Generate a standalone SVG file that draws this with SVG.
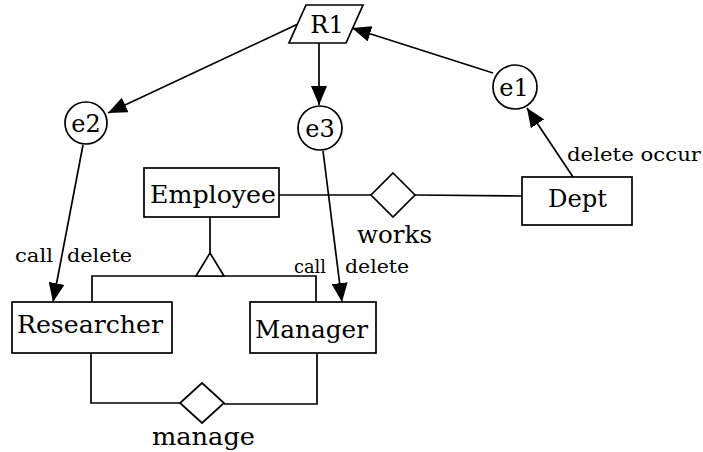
<svg xmlns="http://www.w3.org/2000/svg" width="703" height="452" viewBox="0 0 703 452">
<style>
.s{fill:#fff;stroke:#000;stroke-width:1.7}
.l{fill:none;stroke:#000;stroke-width:1.7}
.t{font-family:"DejaVu Serif","Liberation Serif",serif;font-size:24px;fill:#000}
.lb{font-family:"DejaVu Serif","Liberation Serif",serif;font-size:19px;fill:#000}
</style>
<defs>
<marker id="ah" markerUnits="userSpaceOnUse" markerWidth="20" markerHeight="16" refX="19" refY="8" orient="auto">
<path d="M0,0 L19,8 L0,16 Z" fill="#000"/>
</marker>
</defs>
<rect width="703" height="452" fill="#fff"/>
<g id="connectors">
<line class="l" x1="298" y1="24" x2="108" y2="113" marker-end="url(#ah)"/>
<line class="l" x1="319" y1="43" x2="319" y2="105" marker-end="url(#ah)"/>
<line class="l" x1="493" y1="73" x2="352" y2="28" marker-end="url(#ah)"/>
<line class="l" x1="573" y1="177" x2="527" y2="108" marker-end="url(#ah)"/>
<line class="l" x1="83" y1="145" x2="53" y2="302" marker-end="url(#ah)"/>
<line class="l" x1="323" y1="151" x2="342" y2="302" marker-end="url(#ah)"/>
<line class="l" x1="279" y1="195" x2="371" y2="195"/>
<line class="l" x1="415" y1="195" x2="522" y2="196"/>
<line class="l" x1="210" y1="217" x2="210" y2="253"/>
<polyline class="l" points="92,302 92,276 316,276 316,302"/>
<polyline class="l" points="91,353 91,403 181,403"/>
<polyline class="l" points="224,404 317,404 317,353"/>
</g>
<g id="R1">
<polygon class="s" points="306,5 363,5 346,43 289,43"/>
<text class="t" x="327" y="33" text-anchor="middle">R1</text>
</g>
<g id="e1">
<circle class="s" cx="515" cy="87" r="22"/>
<text class="t" x="514" y="96" text-anchor="middle">e1</text>
</g>
<g id="e2">
<circle class="s" cx="86" cy="123" r="21"/>
<text class="t" x="86" y="132" text-anchor="middle">e2</text>
</g>
<g id="e3">
<circle class="s" cx="320" cy="128" r="22"/>
<text class="t" x="320" y="137" text-anchor="middle">e3</text>
</g>
<g id="Employee">
<rect class="s" x="144" y="168" width="135" height="49"/>
<text class="t" x="150" y="203" textLength="126" lengthAdjust="spacingAndGlyphs">Employee</text>
</g>
<g id="works">
<polygon class="s" points="393,173 415,195 393,217 371,195"/>
<text class="t" x="357" y="243" textLength="75" lengthAdjust="spacingAndGlyphs">works</text>
</g>
<g id="Dept">
<rect class="s" x="522" y="177" width="110" height="48"/>
<text class="t" x="548" y="207" textLength="59" lengthAdjust="spacingAndGlyphs">Dept</text>
</g>
<g id="isa">
<polygon class="s" points="210,253 224,276 196,276"/>
</g>
<g id="Researcher">
<rect class="s" x="12" y="302" width="160" height="51"/>
<text class="t" x="17" y="333" textLength="146" lengthAdjust="spacingAndGlyphs">Researcher</text>
</g>
<g id="Manager">
<rect class="s" x="250" y="302" width="126" height="51"/>
<text class="t" x="255" y="338" textLength="113" lengthAdjust="spacingAndGlyphs">Manager</text>
</g>
<g id="manage">
<polygon class="s" points="202,383 224,403 202,423 180,403"/>
<text class="t" x="152" y="445" textLength="103" lengthAdjust="spacingAndGlyphs">manage</text>
</g>
<g id="labels">
<text class="lb" y="262"><tspan x="15" textLength="38" lengthAdjust="spacingAndGlyphs">call</tspan> <tspan x="67" textLength="65" lengthAdjust="spacingAndGlyphs">delete</tspan></text>
<text class="lb" y="273"><tspan x="294" textLength="32" lengthAdjust="spacingAndGlyphs">call</tspan> <tspan x="345" textLength="64" lengthAdjust="spacingAndGlyphs">delete</tspan></text>
<text class="lb" x="567" y="161" textLength="134" lengthAdjust="spacingAndGlyphs">delete occur</text>
</g>
</svg>
